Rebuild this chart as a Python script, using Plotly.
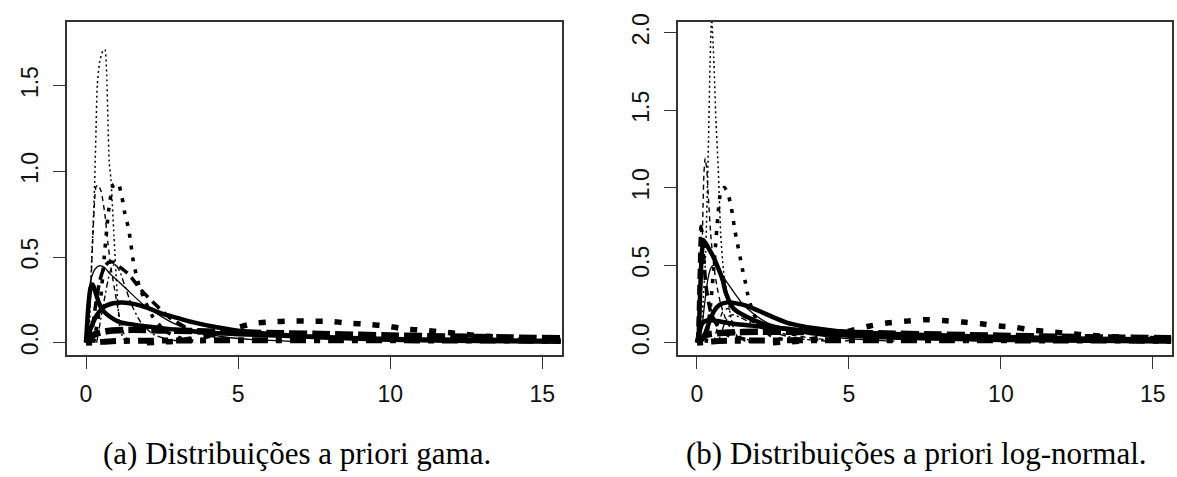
import plotly.graph_objects as go

W, H = 1177, 477

# ---------------- data ----------------
# (a) gamma priors
ga_spike_x = [0.10, 0.19, 0.27, 0.33, 0.37, 0.45, 0.55, 0.62, 0.68, 0.72, 0.76, 0.82, 0.92, 1.02, 1.12, 1.25, 1.40]
ga_spike_y = [0.00, 0.50, 0.85, 1.25, 1.50, 1.64, 1.70, 1.71, 1.56, 1.30, 1.06, 0.95, 0.62, 0.30, 0.08, 0.02, 0.00]
ga_dash_x = [0.05, 0.15, 0.22, 0.28, 0.33, 0.40, 0.50, 0.62, 0.72, 0.82, 0.95, 1.10, 1.25, 1.40]
ga_dash_y = [0.00, 0.30, 0.60, 0.82, 0.91, 0.92, 0.88, 0.75, 0.58, 0.44, 0.30, 0.15, 0.05, 0.01]
ga_dotthick_x = [0.25, 0.45, 0.60, 0.75, 0.90, 1.05, 1.18, 1.27, 1.38, 1.45, 1.55, 1.66, 1.75, 1.95, 2.20, 2.60, 3.20, 3.80]
ga_dotthick_y = [0.00, 0.20, 0.50, 0.78, 0.92, 0.93, 0.85, 0.76, 0.68, 0.61, 0.48, 0.39, 0.33, 0.24, 0.15, 0.07, 0.02, 0.005]
ga_dashthick_x = [0.15, 0.30, 0.45, 0.60, 0.75, 0.90, 1.05, 1.40, 1.80, 2.30, 2.80, 3.50, 4.50]
ga_dashthick_y = [0.00, 0.20, 0.36, 0.44, 0.47, 0.47, 0.45, 0.40, 0.31, 0.22, 0.14, 0.07, 0.03]
ga_thin_x = [0.00, 0.08, 0.18, 0.30, 0.45, 0.60, 0.80, 1.05, 1.35, 1.90, 2.80, 3.50, 4.50, 5.50, 7.00]
ga_thin_y = [0.00, 0.28, 0.38, 0.43, 0.45, 0.44, 0.40, 0.36, 0.31, 0.22, 0.12, 0.07, 0.035, 0.018, 0.006]
ga_dashdot_x = [0.35, 0.60, 0.80, 0.95, 1.10, 1.30, 1.50, 1.80, 2.20, 2.70, 3.30]
ga_dashdot_y = [0.00, 0.25, 0.42, 0.46, 0.42, 0.32, 0.22, 0.12, 0.05, 0.02, 0.005]
ga_wide_x = [0.00, 0.15, 0.35, 0.60, 0.90, 1.20, 1.60, 2.00, 2.50, 3.00, 3.50, 4.30, 5.20, 6.50, 8.00, 10.0, 12.0, 14.0, 15.6]
ga_wide_y = [0.00, 0.08, 0.16, 0.21, 0.23, 0.235, 0.225, 0.205, 0.17, 0.145, 0.12, 0.09, 0.065, 0.045, 0.03, 0.018, 0.012, 0.008, 0.006]
ga_low_x = [0.00, 0.08, 0.15, 0.22, 0.30, 0.45, 0.60, 0.80, 1.10, 1.40, 2.00, 2.50, 3.00, 4.00, 5.00, 6.50, 8.00, 10.0, 12.0, 15.6]
ga_low_y = [0.00, 0.22, 0.32, 0.34, 0.30, 0.22, 0.18, 0.15, 0.12, 0.11, 0.095, 0.085, 0.075, 0.06, 0.05, 0.04, 0.03, 0.022, 0.016, 0.01]
ga_far_x = [2.0, 3.0, 4.0, 4.8, 5.5, 6.1, 6.75, 7.4, 8.0, 8.6, 9.3, 9.9, 10.5, 11.15, 11.75, 12.5, 13.3, 14.2, 15.6]
ga_far_y = [0.0, 0.01, 0.04, 0.08, 0.112, 0.122, 0.126, 0.126, 0.125, 0.115, 0.107, 0.097, 0.080, 0.072, 0.062, 0.048, 0.036, 0.026, 0.015]
ga_band_x = [0.0, 0.3, 0.8, 1.5, 2.5, 3.5, 5.0, 6.5, 8.0, 10.0, 12.0, 14.0, 15.6]
ga_band_y = [0.0, 0.05, 0.07, 0.075, 0.072, 0.068, 0.06, 0.055, 0.05, 0.042, 0.036, 0.03, 0.026]
ga_floor_x = [0.0, 0.5, 1.0, 2.0, 3.0, 4.0, 5.0, 6.0, 8.0, 10.0, 12.0, 15.6]
ga_floor_y = [0.0, 0.005, 0.01, 0.012, 0.013, 0.014, 0.015, 0.015, 0.015, 0.014, 0.013, 0.012]

# (b) log-normal priors
ln_spike_x = [0.12, 0.20, 0.27, 0.33, 0.38, 0.43, 0.48, 0.55, 0.62, 0.70, 0.78, 0.87, 0.98, 1.12, 1.26, 1.45, 1.80]
ln_spike_y = [0.00, 0.26, 0.50, 0.90, 1.32, 1.80, 2.10, 1.84, 1.45, 1.12, 0.70, 0.47, 0.32, 0.16, 0.06, 0.02, 0.00]
ln_dash_x = [0.08, 0.14, 0.19, 0.23, 0.27, 0.32, 0.38, 0.46, 0.55, 0.65, 0.78, 0.95, 1.15, 1.40, 1.80]
ln_dash_y = [0.00, 0.35, 0.80, 1.10, 1.19, 1.12, 0.92, 0.68, 0.50, 0.37, 0.25, 0.15, 0.08, 0.04, 0.01]
ln_dashthick_x = [0.02, 0.06, 0.10, 0.13, 0.17, 0.22, 0.30, 0.45, 0.70, 1.00, 1.50, 2.20]
ln_dashthick_y = [0.00, 0.30, 0.62, 0.75, 0.70, 0.55, 0.36, 0.20, 0.10, 0.05, 0.025, 0.01]
ln_dotthick_x = [0.30, 0.45, 0.58, 0.68, 0.78, 0.90, 1.02, 1.13, 1.25, 1.33, 1.42, 1.50, 1.58, 1.66, 1.80, 2.00, 2.40, 3.00]
ln_dotthick_y = [0.00, 0.25, 0.55, 0.80, 0.97, 1.00, 0.96, 0.87, 0.72, 0.64, 0.55, 0.47, 0.40, 0.32, 0.22, 0.13, 0.05, 0.01]
ln_thin_x = [0.05, 0.15, 0.25, 0.35, 0.45, 0.55, 0.65, 0.80, 0.95, 1.20, 1.50, 1.90, 2.30, 2.80, 3.40, 4.20, 5.00, 6.50]
ln_thin_y = [0.00, 0.08, 0.25, 0.40, 0.48, 0.50, 0.49, 0.45, 0.40, 0.33, 0.25, 0.18, 0.13, 0.09, 0.065, 0.04, 0.025, 0.01]
ln_steep_x = [0.05, 0.10, 0.16, 0.22, 0.35, 0.52, 0.70, 0.85, 0.95, 1.20, 1.60, 2.20, 3.00, 4.00, 5.00, 7.00, 10.0, 15.6]
ln_steep_y = [0.00, 0.30, 0.58, 0.66, 0.62, 0.56, 0.48, 0.40, 0.32, 0.22, 0.17, 0.12, 0.085, 0.06, 0.045, 0.03, 0.018, 0.008]
ln_wide_x = [0.10, 0.25, 0.40, 0.55, 0.75, 1.00, 1.25, 1.50, 1.80, 2.10, 2.50, 2.95, 3.50, 4.00, 5.00, 6.00, 7.50, 9.00, 11.0, 13.0, 15.6]
ln_wide_y = [0.00, 0.05, 0.13, 0.20, 0.245, 0.26, 0.255, 0.245, 0.225, 0.20, 0.165, 0.13, 0.105, 0.09, 0.065, 0.05, 0.035, 0.027, 0.02, 0.015, 0.011]
ln_low_x = [0.00, 0.10, 0.20, 0.35, 0.50, 0.80, 1.25, 1.80, 2.35, 3.00, 3.45, 4.20, 5.10, 6.00, 7.50, 9.00, 11.0, 13.0, 15.6]
ln_low_y = [0.00, 0.09, 0.13, 0.145, 0.145, 0.135, 0.12, 0.11, 0.10, 0.09, 0.08, 0.075, 0.068, 0.06, 0.05, 0.042, 0.033, 0.026, 0.02]
ln_mid1_x = [0.55, 0.70, 0.85, 1.00, 1.25, 1.55, 1.90, 2.30, 2.80, 3.40, 4.20, 5.20]
ln_mid1_y = [0.00, 0.12, 0.20, 0.22, 0.20, 0.165, 0.125, 0.09, 0.06, 0.04, 0.02, 0.01]
ln_mid2_x = [0.70, 0.90, 1.05, 1.20, 1.45, 1.75, 2.10, 2.50, 3.00, 3.60, 4.50]
ln_mid2_y = [0.00, 0.12, 0.17, 0.18, 0.16, 0.13, 0.095, 0.065, 0.04, 0.02, 0.008]
ln_far_x = [2.5, 3.5, 4.3, 5.0, 5.7, 6.3, 6.9, 7.5, 8.1, 8.75, 9.35, 9.95, 10.45, 11.05, 11.65, 12.25, 12.9, 13.7, 14.6, 15.6]
ln_far_y = [0.0, 0.012, 0.04, 0.075, 0.108, 0.128, 0.139, 0.148, 0.143, 0.133, 0.122, 0.108, 0.10, 0.08, 0.07, 0.059, 0.048, 0.038, 0.03, 0.022]
ln_band_x = [0.0, 0.3, 1.0, 2.0, 3.0, 4.0, 5.0, 6.5, 8.0, 10.0, 12.0, 14.0, 15.6]
ln_band_y = [0.0, 0.05, 0.065, 0.07, 0.07, 0.068, 0.064, 0.058, 0.052, 0.045, 0.038, 0.032, 0.028]
ln_floor_x = [0.0, 0.5, 1.0, 2.0, 3.0, 4.0, 5.0, 6.0, 8.0, 10.0, 12.0, 15.6]
ln_floor_y = [0.0, 0.008, 0.012, 0.014, 0.015, 0.016, 0.016, 0.016, 0.016, 0.015, 0.014, 0.013]

x_ticks = [0, 5, 10, 15]
ya_ticks = [0.0, 0.5, 1.0, 1.5]
yb_ticks = [0.0, 0.5, 1.0, 1.5, 2.0]
caption_a = "(a) Distribuições a priori gama."
caption_b = "(b) Distribuições a priori log-normal."

# ---------------- styles ----------------
THIN_DOT = dict(width=1.5, dash="2px,3px")
THIN_DASH = dict(width=1.4, dash="5px,4px")
THIN_DASHDOT = dict(width=1.4, dash="6px,3px,2px,3px")
THICK_DOT = dict(width=3.6, dash="4px,8px")
THICK_DASH = dict(width=3.6, dash="10px,6px")
THIN_SOLID = dict(width=1.3, dash="solid")
THICK_SOLID = dict(width=4.5, dash="solid")
BIG_DOT = dict(width=5.5, dash="7px,12px")
BAND_DASH = dict(width=6.5, dash="18px,5px")
FLOOR_DASH = dict(width=6, dash="6px,8px,16px,8px")

panel_a = [
    (ga_band_x, ga_band_y, BAND_DASH),
    (ga_floor_x, ga_floor_y, FLOOR_DASH),
    (ga_far_x, ga_far_y, BIG_DOT),
    (ga_low_x, ga_low_y, THICK_SOLID),
    (ga_wide_x, ga_wide_y, THICK_SOLID),
    (ga_thin_x, ga_thin_y, THIN_SOLID),
    (ga_dashdot_x, ga_dashdot_y, THIN_DASHDOT),
    (ga_dashthick_x, ga_dashthick_y, THICK_DASH),
    (ga_dotthick_x, ga_dotthick_y, THICK_DOT),
    (ga_dash_x, ga_dash_y, THIN_DASH),
    (ga_spike_x, ga_spike_y, THIN_DOT),
]
panel_b = [
    (ln_band_x, ln_band_y, BAND_DASH),
    (ln_floor_x, ln_floor_y, FLOOR_DASH),
    (ln_far_x, ln_far_y, BIG_DOT),
    (ln_low_x, ln_low_y, THICK_SOLID),
    (ln_wide_x, ln_wide_y, THICK_SOLID),
    (ln_steep_x, ln_steep_y, THICK_SOLID),
    (ln_thin_x, ln_thin_y, THIN_SOLID),
    (ln_mid1_x, ln_mid1_y, THIN_DASH),
    (ln_mid2_x, ln_mid2_y, THIN_DASHDOT),
    (ln_dashthick_x, ln_dashthick_y, THICK_DASH),
    (ln_dotthick_x, ln_dotthick_y, THICK_DOT),
    (ln_dash_x, ln_dash_y, THIN_DASH),
    (ln_spike_x, ln_spike_y, THIN_DOT),
]

fig = go.Figure()
for xs, ys, st in panel_a:
    fig.add_trace(go.Scatter(x=xs, y=ys, mode="lines", xaxis="x", yaxis="y",
                             line=dict(color="black", shape="spline", smoothing=0.6, **st),
                             showlegend=False, hoverinfo="skip"))
for xs, ys, st in panel_b:
    fig.add_trace(go.Scatter(x=xs, y=ys, mode="lines", xaxis="x2", yaxis="y2",
                             line=dict(color="black", shape="spline", smoothing=0.6, **st),
                             showlegend=False, hoverinfo="skip"))

tickfont = dict(family="Liberation Sans, Arial, sans-serif", size=23, color="#111")
common_x = dict(range=[-0.625, 15.63], tickvals=x_ticks, ticktext=[str(t) for t in x_ticks],
                ticks="outside", ticklen=12, tickwidth=1.3, tickcolor="#333",
                showline=True, mirror=True, linecolor="#333", linewidth=1.5,
                showgrid=False, zeroline=False, tickfont=tickfont, ticklabelstandoff=6,
                fixedrange=True)
common_y = dict(ticks="outside", ticklen=12, tickwidth=1.3, tickcolor="#333",
                showline=True, mirror=True, linecolor="#333", linewidth=1.5,
                showgrid=False, zeroline=False, tickfont=tickfont, tickangle=-90,
                ticklabelstandoff=6, fixedrange=True)

y_dom = [(H - 353) / H, (H - 14) / H]
capfont = dict(family="Liberation Serif, Times New Roman, serif", size=31, color="black")
fig.update_layout(
    width=W, height=H, margin=dict(l=0, r=0, t=0, b=0),
    paper_bgcolor="white", plot_bgcolor="white",
    xaxis=dict(domain=[67 / W, 561.5 / W], anchor="y", **common_x),
    yaxis=dict(domain=y_dom, anchor="x", range=[-0.072, 1.872], tickvals=ya_ticks,
               ticktext=[f"{v:.1f}" for v in ya_ticks], **common_y),
    xaxis2=dict(domain=[678 / W, 1172 / W], anchor="y2", **common_x),
    yaxis2=dict(domain=y_dom, anchor="x2", range=[-0.08, 2.07], tickvals=yb_ticks,
                ticktext=[f"{v:.1f}" for v in yb_ticks], **common_y),
    annotations=[
        dict(text=caption_a, x=297 / W, y=(H - 453) / H, xref="paper", yref="paper",
             showarrow=False, xanchor="center", yanchor="middle", font=capfont),
        dict(text=caption_b, x=916 / W, y=(H - 453) / H, xref="paper", yref="paper",
             showarrow=False, xanchor="center", yanchor="middle", font=capfont),
    ],
)

fig.write_html("out.html")
